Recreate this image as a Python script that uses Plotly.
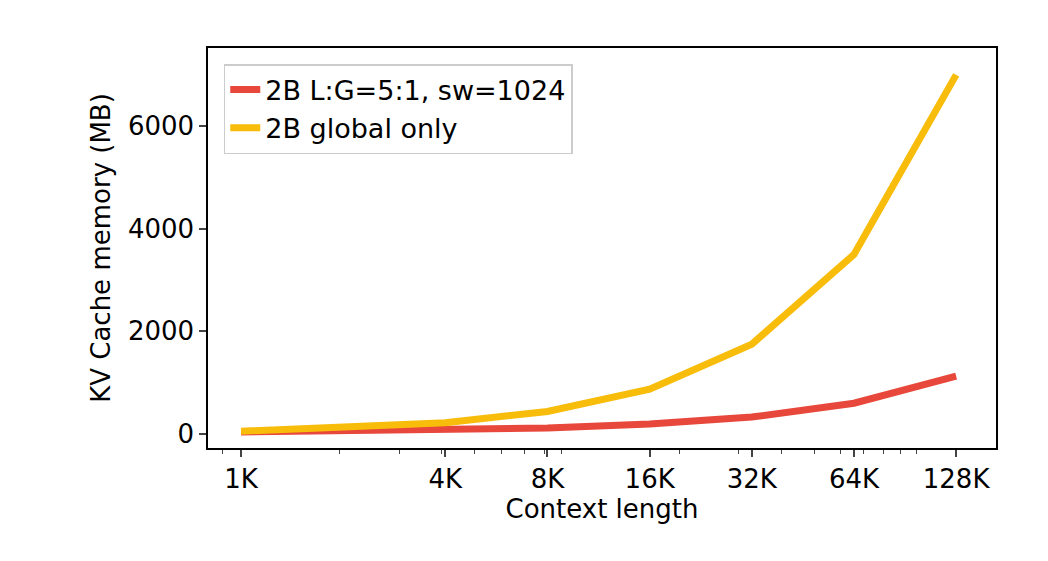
import plotly.graph_objects as go

context = [1024, 4096, 8192, 16384, 32768, 65536, 131072]
tick_labels = ["1K", "4K", "8K", "16K", "32K", "64K", "128K"]
local_mem = [40, 78, 117, 195, 330, 600, 1130]
global_mem = [55, 220, 440, 875, 1750, 3500, 7000]
minor_vals = [800, 900] + [k * 1000 for k in range(2, 10)] + [k * 10000 for k in range(2, 10)] + [k * 100000 for k in range(1, 2)]

fig = go.Figure()
fig.add_trace(go.Scatter(x=context, y=local_mem, mode="lines", name="2B L:G=5:1, sw=1024",
                         line=dict(color="#e8473b", width=7)))
fig.add_trace(go.Scatter(x=context, y=global_mem, mode="lines", name="2B global only",
                         line=dict(color="#f8bc0a", width=7)))

font = dict(family="DejaVu Sans", size=26, color="black")
fig.update_layout(
    width=1048, height=561, plot_bgcolor="white", paper_bgcolor="white",
    margin=dict(l=200, r=60, t=40, b=121), font=font,
    showlegend=True,
    legend=dict(x=0.02, y=0.96, xanchor="left", yanchor="top", bordercolor="#cccccc",
                borderwidth=1.5, bgcolor="rgba(255,255,255,0.8)", font=dict(family="DejaVu Sans", size=27)),
    xaxis=dict(type="log", range=[2.913, 5.235], tickvals=context, ticktext=tick_labels,
               tickfont=font,
               showgrid=False, zeroline=False, showline=True, linecolor="black", linewidth=1.5, mirror=True,
               ticks="outside", ticklen=7, tickwidth=1.5,
               minor=dict(tickvals=minor_vals, ticks="outside", ticklen=4, tickwidth=1, showgrid=False),
               title=dict(text="Context length", font=font, standoff=4)),
    yaxis=dict(range=[-273, 7524], tickvals=[0, 2000, 4000, 6000], showgrid=False, zeroline=False,
               tickfont=font,
               showline=True, linecolor="black", linewidth=1.5, mirror=True,
               ticks="outside", ticklen=7, tickwidth=1.5,
               title=dict(text="KV Cache memory (MB)", font=font, standoff=10)),
)
fig.write_html("out.html")
